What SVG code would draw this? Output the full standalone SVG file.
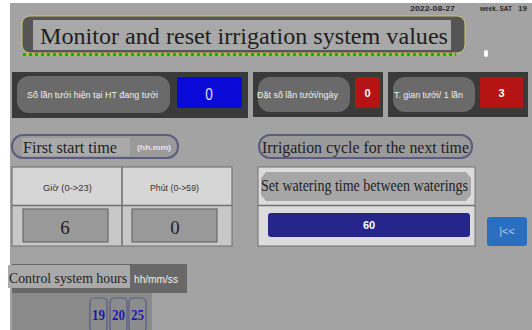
<svg xmlns="http://www.w3.org/2000/svg" width="532" height="330" viewBox="0 0 532 330">
<defs>
<style>
.serif{font-family:"Liberation Serif","DejaVu Serif",serif;fill:#1e1e1e}
.sans{font-family:"Liberation Sans","DejaVu Sans",sans-serif}
.panel{fill:#3a3a3a}
.pill{fill:#6a6a6a}
.lbl{font-family:"Liberation Sans Narrow","Liberation Sans",sans-serif;font-size:9.5px;fill:#f0f0f0}
.val{font-family:"Liberation Sans",sans-serif;font-weight:bold;font-size:11px;fill:#fff;text-anchor:middle}
.tbox{fill:#8c8c8c;stroke:#5a5a8a;stroke-width:1.2}
.tnum{font-family:"Liberation Serif",serif;font-weight:bold;font-size:15px;fill:#1a1ab0;text-anchor:middle}
</style>
</defs>
<rect width="532" height="330" fill="#ffffff"/>
<rect x="10" y="3" width="522" height="327" fill="#a3a3a3"/>

<g id="date">
<text x="410" y="11" class="sans" font-size="8" font-weight="bold" fill="#2a2a2a" textLength="45" lengthAdjust="spacingAndGlyphs">2022-08-27</text>
<text x="480" y="11" class="sans" font-size="8" font-weight="bold" fill="#2a2a2a" textLength="32" lengthAdjust="spacingAndGlyphs">week. SAT</text>
<text x="518" y="11" class="sans" font-size="8" font-weight="bold" fill="#2a2a2a">19</text>
</g>

<g id="title">
<rect x="22" y="16" width="443" height="37" rx="8" fill="#555" stroke="#c8c870" stroke-width="1"/>
<rect x="33" y="20" width="418" height="30" fill="#a8a8a8"/>
<text x="40" y="44" class="serif" font-size="24" textLength="408" lengthAdjust="spacingAndGlyphs">Monitor and reset irrigation system values</text>
<line x1="22" y1="54.5" x2="456" y2="54.5" stroke="#9acd32" stroke-width="2"/>
<line x1="23" y1="54.5" x2="456" y2="54.5" stroke="#10b010" stroke-width="3" stroke-dasharray="3,3"/>
<rect x="484" y="50" width="4" height="7" rx="2" fill="#ffffff"/>
</g>

<g id="current-count">
<rect x="12" y="72" width="236" height="46" class="panel"/>
<rect x="17" y="76" width="153" height="37" rx="12" class="pill"/>
<text x="27" y="98" class="lbl" textLength="131" lengthAdjust="spacingAndGlyphs">Số lần tưới hiện tại HT đang tưới</text>
<rect x="177" y="77" width="65" height="31" rx="2" fill="#0a0ad8"/>
<text x="209" y="100" class="sans" font-size="17" fill="#e0e0f0" text-anchor="middle" transform="translate(209 0) scale(0.8 1) translate(-209 0)">0</text>
</g>

<g id="set-per-day">
<rect x="253" y="72" width="130" height="45" class="panel"/>
<rect x="258" y="77" width="92" height="35" rx="12" class="pill"/>
<text x="257" y="98" class="lbl" textLength="81" lengthAdjust="spacingAndGlyphs">Đặt số lần tưới/ngày</text>
<rect x="355" y="77" width="25" height="31" fill="#b41414"/>
<text x="367.5" y="97" class="val">0</text>
</g>

<g id="duration">
<rect x="388" y="72" width="140" height="45" class="panel"/>
<rect x="393" y="77" width="82" height="35" rx="12" class="pill"/>
<text x="394" y="98" class="lbl" textLength="69" lengthAdjust="spacingAndGlyphs">T. gian tưới/ 1 lần</text>
<rect x="480" y="77" width="43" height="31" fill="#b41414"/>
<text x="501.5" y="97" class="val">3</text>
</g>

<g id="first-start">
<rect x="12" y="135" width="166" height="23" rx="11" fill="#9a9a9a" stroke="#5c5c80" stroke-width="2"/>
<rect x="22" y="138" width="108" height="18" fill="#a9a9a9"/>
<text x="23" y="153" class="serif" font-size="17" textLength="94" lengthAdjust="spacingAndGlyphs">First start time</text>
<text x="137" y="150" class="sans" font-size="8" font-weight="bold" fill="#ece4f4" textLength="34" lengthAdjust="spacingAndGlyphs">(hh.mm)</text>
</g>

<g id="start-table">
<rect x="12" y="167" width="220" height="79" fill="#c8c8c8" stroke="#707070" stroke-width="1"/>
<rect x="13" y="168" width="108" height="37" fill="#d6d6d6"/>
<rect x="123" y="168" width="108" height="37" fill="#d6d6d6"/>
<line x1="122" y1="167" x2="122" y2="246" stroke="#707070" stroke-width="1.5"/>
<line x1="12" y1="205.5" x2="232" y2="205.5" stroke="#707070" stroke-width="1.5"/>
<text x="43" y="191" class="sans" font-size="8.5" fill="#333" textLength="49" lengthAdjust="spacingAndGlyphs">Giờ (0-&gt;23)</text>
<text x="150" y="191" class="sans" font-size="8.5" fill="#333" textLength="49" lengthAdjust="spacingAndGlyphs">Phút (0-&gt;59)</text>
<rect x="23" y="209" width="85" height="33" fill="#999" stroke="#6a6a6a" stroke-width="1.2"/>
<rect x="132" y="209" width="85" height="33" fill="#999" stroke="#6a6a6a" stroke-width="1.2"/>
<text x="65" y="234" class="serif" font-size="19" fill="#3a3a3a" text-anchor="middle">6</text>
<text x="175" y="234" class="serif" font-size="19" fill="#3a3a3a" text-anchor="middle">0</text>
</g>

<g id="cycle">
<rect x="259" y="135" width="213" height="23" rx="11" fill="#9a9a9a" stroke="#5c5c80" stroke-width="2"/>
<text x="262" y="153" class="serif" font-size="17" textLength="207" lengthAdjust="spacingAndGlyphs">Irrigation cycle for the next time</text>
</g>

<g id="cycle-box">
<rect x="258" y="167" width="217" height="79" fill="#dcdcdc" stroke="#707070" stroke-width="1"/>
<line x1="258" y1="205.5" x2="475" y2="205.5" stroke="#707070" stroke-width="1.5"/>
<path d="M266,172 H466 L471,178 V195 L466,201 H266 L261,195 V178 Z" fill="#a6a6a6"/>
<text x="261" y="191" class="serif" font-size="16" textLength="207" lengthAdjust="spacingAndGlyphs">Set watering time between waterings</text>
<rect x="268" y="213" width="202" height="24" rx="3" fill="#25258c"/>
<text x="369" y="229" class="val" font-size="10">60</text>
</g>

<g id="back-button">
<rect x="487" y="217" width="40" height="29" rx="3" fill="#2a6ec0"/>
<text x="507" y="235" class="sans" font-size="11" fill="#b8c8e8" text-anchor="middle">|&lt;&lt;</text>
</g>

<g id="clock">
<rect x="12" y="264" width="175" height="29" fill="#686868"/>
<rect x="8" y="265" width="122" height="23" fill="#a9a9a9"/>
<text x="9" y="283" class="serif" font-size="14.5" textLength="118" lengthAdjust="spacingAndGlyphs">Control system hours</text>
<text x="134" y="283" font-family="Liberation Sans Narrow, Liberation Sans, sans-serif" font-size="11" fill="#f0f0f0" textLength="44" lengthAdjust="spacingAndGlyphs">hh/mm/ss</text>
<rect x="12" y="293" width="140" height="37" fill="#8a8a8a"/>
<rect x="90" y="298" width="17" height="34" rx="4" class="tbox"/>
<rect x="110" y="298" width="17" height="34" rx="4" class="tbox"/>
<rect x="129" y="298" width="17" height="34" rx="4" class="tbox"/>
<text x="98.5" y="320" class="tnum" font-size="14" textLength="13" lengthAdjust="spacingAndGlyphs">19</text>
<text x="118.5" y="320" class="tnum" font-size="14" textLength="13" lengthAdjust="spacingAndGlyphs">20</text>
<text x="137.5" y="320" class="tnum" font-size="14" textLength="13" lengthAdjust="spacingAndGlyphs">25</text>
</g>
</svg>
